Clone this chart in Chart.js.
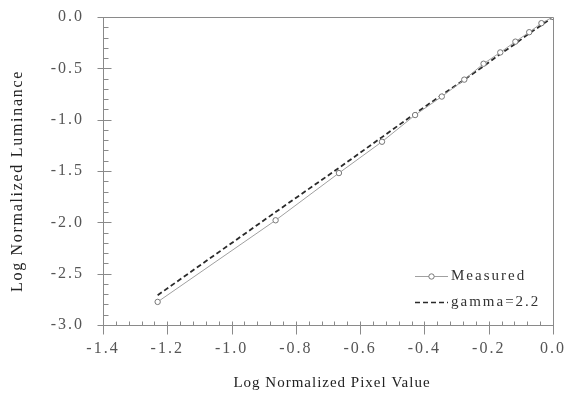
<!DOCTYPE html>
<html>
<head>
<meta charset="utf-8">
<script src="https://cdn.jsdelivr.net/npm/chart.js@4.4.1/dist/chart.umd.min.js"></script>
<style>
  html, body { margin: 0; padding: 0; background: #fff; }
  #wrap { width: 567px; height: 397px; position: relative; }
</style>
</head>
<body>
<div id="wrap"><canvas id="c"></canvas></div>
<script>
// log10 of normalized pixel value for each measured step
const pixelLogX = [-1.23, -0.863, -0.666, -0.532, -0.429, -0.346, -0.276, -0.216, -0.164, -0.117, -0.074, -0.036, 0.0];
// log10 of normalized luminance as measured
const measuredLogY = [-2.775, -1.98, -1.52, -1.215, -0.955, -0.775, -0.61, -0.455, -0.345, -0.24, -0.148, -0.06, 0.0];
// reference power-law curve (gamma 2.2) at the same inputs
const gammaLogY = [-2.71, -1.90, -1.47, -1.17, -0.94, -0.76, -0.61, -0.48, -0.36, -0.26, -0.16, -0.08, 0.0];

const xTickLabels = ['-1.4', '-1.2', '-1.0', '-0.8', '-0.6', '-0.4', '-0.2', '0.0'];
const yTickLabels = ['-3.0', '-2.5', '-2.0', '-1.5', '-1.0', '-0.5', '0.0'];
const seriesNames = ['Measured', 'gamma=2.2'];
const xTitle = 'Log Normalized Pixel Value';
const yTitle = 'Log Normalized Luminance';

const SERIF = "'Liberation Serif', 'Times New Roman', serif";
const AXIS_COLOR = '#8a8a8a';

const toPoints = (xs, ys) => xs.map((x, i) => ({ x: x, y: ys[i] }));

// tick labels are drawn with a little extra tracking
const tracking = {
  id: 'tracking',
  beforeLayout(chart) { chart.ctx.letterSpacing = '2px'; },
  beforeDraw(chart) { chart.ctx.letterSpacing = '2px'; }
};

// labels may overhang the plot edges; keep the plot box fixed
const noOverhang = (s) => {
  s.paddingTop = 0; s.paddingBottom = 0; s.paddingLeft = 0; s.paddingRight = 0;
};

// frame, inward/crossing tick marks, axis titles and the inset legend
const decorations = {
  id: 'decorations',
  afterDraw(chart) {
    const ctx = chart.ctx;
    const a = chart.chartArea;
    const xs = chart.scales.x, ys = chart.scales.y;
    const L = Math.round(a.left) + 0.5, R = Math.round(a.right) + 0.5;
    const T = Math.round(a.top) + 0.5, B = Math.round(a.bottom) + 0.5;
    ctx.save();
    ctx.letterSpacing = '0px';
    ctx.strokeStyle = AXIS_COLOR;
    ctx.lineWidth = 1;
    ctx.beginPath();
    ctx.rect(L, T, R - L, B - T);
    ctx.stroke();

    // y ticks: major every 0.5 crossing the axis, minor every 0.1 inside
    ctx.beginPath();
    for (let k = 0; k <= 30; k++) {
      const v = -3 + k * 0.1;
      const py = Math.round(ys.getPixelForValue(v)) + 0.5;
      if (k % 5 === 0) { ctx.moveTo(L - 6, py); ctx.lineTo(L + 8, py); }
      else { ctx.moveTo(L, py); ctx.lineTo(L + 5, py); }
    }
    // x ticks: major every 0.2 crossing the axis, minor every 0.04 inside
    for (let k = 0; k <= 35; k++) {
      const v = -1.4 + k * 0.04;
      const px = Math.round(xs.getPixelForValue(v)) + 0.5;
      if (k % 5 === 0) { ctx.moveTo(px, B - 4); ctx.lineTo(px, B + 9); }
      else { ctx.moveTo(px, B); ctx.lineTo(px, B - 4); }
    }
    ctx.stroke();

    // axis titles
    ctx.fillStyle = '#222';
    ctx.textAlign = 'center';
    ctx.textBaseline = 'middle';
    ctx.font = '15px ' + SERIF;
    ctx.letterSpacing = '1px';
    ctx.fillText(xTitle, (a.left + a.right) / 2 + 4, 383);
    ctx.save();
    ctx.font = '16px ' + SERIF;
    ctx.letterSpacing = '1.7px';
    ctx.translate(18, 181);
    ctx.rotate(-Math.PI / 2);
    ctx.fillText(yTitle, 0, 0);
    ctx.restore();

    // legend inside the lower right corner
    const lx0 = a.right - 138, lx1 = a.right - 105, tx = a.right - 102;
    const rows = [a.bottom - 49, a.bottom - 23];
    const m = chart.data.datasets[0], g = chart.data.datasets[1];
    ctx.textAlign = 'left';
    ctx.font = '15px ' + SERIF;
    ctx.letterSpacing = '2px';

    ctx.strokeStyle = m.borderColor;
    ctx.lineWidth = m.borderWidth;
    ctx.beginPath();
    ctx.moveTo(lx0, rows[0] + 0.5); ctx.lineTo(lx1, rows[0] + 0.5);
    ctx.stroke();
    ctx.beginPath();
    ctx.arc((lx0 + lx1) / 2, rows[0] + 0.5, m.pointRadius, 0, Math.PI * 2);
    ctx.fillStyle = m.pointBackgroundColor; ctx.fill();
    ctx.strokeStyle = m.pointBorderColor; ctx.stroke();
    ctx.fillStyle = '#333';
    ctx.fillText(m.label, tx, rows[0]);

    ctx.strokeStyle = g.borderColor;
    ctx.lineWidth = 1.3;
    ctx.setLineDash(g.borderDash);
    ctx.beginPath();
    ctx.moveTo(lx0, rows[1] + 0.5); ctx.lineTo(lx1, rows[1] + 0.5);
    ctx.stroke();
    ctx.setLineDash([]);
    ctx.fillText(g.label, tx, rows[1]);
    ctx.restore();
  }
};

new Chart(document.getElementById('c'), {
  type: 'line',
  data: {
    datasets: [
      {
        label: seriesNames[0],
        data: toPoints(pixelLogX, measuredLogY),
        borderColor: '#a0a0a0',
        borderWidth: 1,
        pointRadius: 2.7,
        pointStyle: 'circle',
        pointBackgroundColor: '#ffffff',
        pointBorderColor: '#777777',
        pointBorderWidth: 1,
        tension: 0,
        order: 0
      },
      {
        label: seriesNames[1],
        data: toPoints(pixelLogX, gammaLogY),
        borderColor: '#2a2a2a',
        borderWidth: 1.8,
        borderDash: [5, 3],
        pointRadius: 0,
        tension: 0,
        order: 1
      }
    ]
  },
  options: {
    responsive: true,
    maintainAspectRatio: false,
    animation: false,
    devicePixelRatio: 1,
    layout: { padding: { left: 0, right: 14, top: 17, bottom: 0 } },
    plugins: { legend: { display: false }, tooltip: { enabled: false } },
    scales: {
      x: {
        type: 'linear',
        min: -1.4,
        max: 0,
        grid: { display: false, drawTicks: false },
        border: { display: false },
        afterBuildTicks: (s) => { s.ticks = xTickLabels.map(t => ({ value: parseFloat(t) })); },
        afterFit: (s) => { s.height = 72; noOverhang(s); },
        ticks: {
          autoSkip: false,
          maxRotation: 0,
          padding: 14,
          color: '#555',
          font: { family: SERIF, size: 16 },
          callback: (v, i) => xTickLabels[i]
        }
      },
      y: {
        type: 'linear',
        min: -3,
        max: 0,
        grid: { display: false, drawTicks: false },
        border: { display: false },
        afterBuildTicks: (s) => { s.ticks = yTickLabels.map(t => ({ value: parseFloat(t) })); },
        afterFit: (s) => { s.width = 103; noOverhang(s); },
        ticks: {
          autoSkip: false,
          padding: 19,
          color: '#555',
          font: { family: SERIF, size: 16 },
          callback: (v, i) => yTickLabels[i]
        }
      }
    }
  },
  plugins: [tracking, decorations]
});
</script>
</body>
</html>
